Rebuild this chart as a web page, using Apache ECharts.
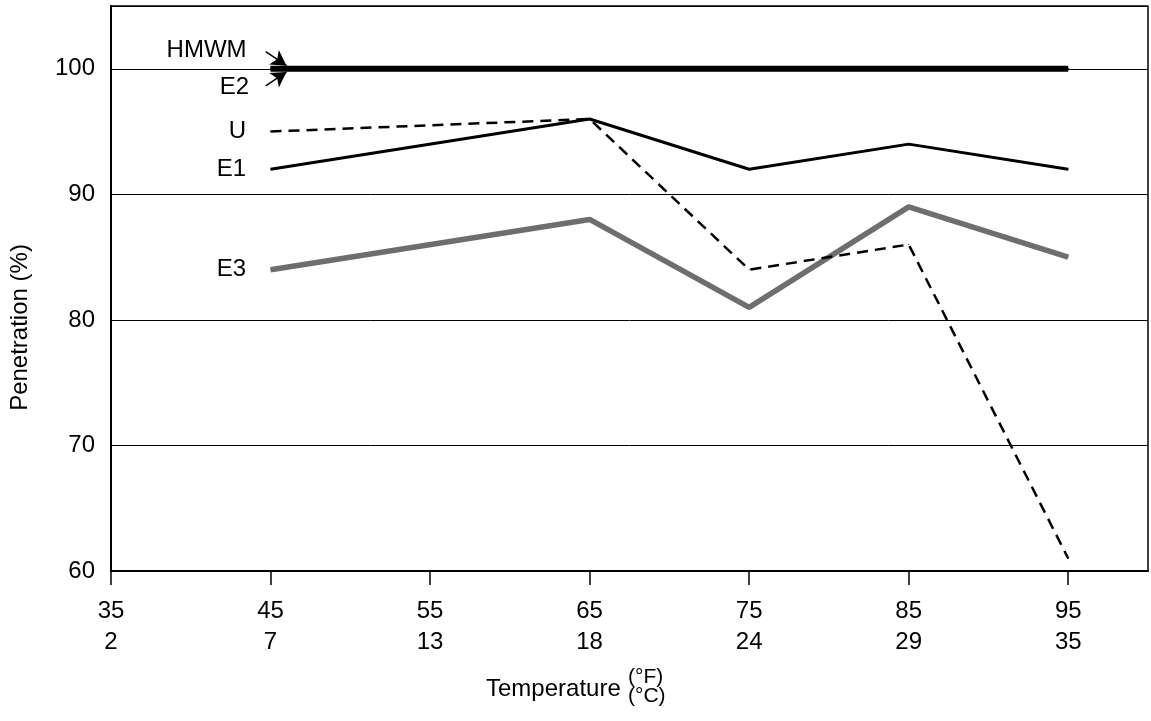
<!DOCTYPE html>
<html>
<head>
<meta charset="utf-8">
<title>Penetration vs Temperature</title>
<script src="https://cdn.jsdelivr.net/npm/echarts@6/dist/echarts.min.js"></script>
<style>
  html, body { margin: 0; padding: 0; background: #fff; }
  #main { width: 1151px; height: 721px; }
</style>
</head>
<body>
<div id="main"></div>
<script>
// temperatures (F) and matching C labels
var tickF = [35, 45, 55, 65, 75, 85, 95];
var tickC = [2, 7, 13, 18, 24, 29, 35];
// penetration (%) read at 45, 65, 75, 85, 95 F
var ptsF = [45, 65, 75, 85, 95];
var hmwm = [100, 100, 100, 100, 100];
var e2 = [100, 100, 100, 100, 100];
var u = [95, 96, 84, 86, 61];
var e1 = [92, 96, 92, 94, 92];
var e3 = [84, 88, 81, 89, 85];

var FONT = '"Liberation Sans", Arial, Helvetica, sans-serif';

function pairs(ys) {
    var out = [];
    for (var i = 0; i < ys.length; i++) {
        out.push([ptsF[i], ys[i]]);
    }
    return out;
}

// label only on the first point, left of the line
function startLabel(name, opts) {
    var l = {
        show: true,
        color: '#000',
        fontSize: 24,
        fontFamily: FONT,
        formatter: function (p) { return p.dataIndex === 0 ? name : ''; }
    };
    for (var k in opts) l[k] = opts[k];
    return l;
}

var myChart = echarts.init(document.getElementById('main'), null, { renderer: 'canvas' });

var option = {
    backgroundColor: '#fff',
    animation: false,
    title: [
        {
            text: 'Temperature',
            left: 486, top: 677,
            padding: 0,
            textStyle: { fontSize: 24, fontWeight: 'normal', color: '#000', fontFamily: FONT }
        },
        {
            text: '(°F)\n(°C)',
            left: 628, top: 668,
            padding: 0,
            textStyle: { fontSize: 21, fontWeight: 'normal', color: '#000', fontFamily: FONT, lineHeight: 19 }
        }
    ],
    grid: {
        left: 111, right: 3, top: 6, bottom: 150,
        show: true,
        borderColor: '#000',
        borderWidth: 1.5,
        outerBoundsMode: 'none'
    },
    xAxis: {
        type: 'value',
        min: 35,
        max: 100,
        axisLine: { show: true, onZero: false, lineStyle: { color: '#000', width: 2 } },
        axisTick: { show: true, inside: false, length: 14, customValues: tickF, lineStyle: { color: '#000', width: 1.5 } },
        splitLine: { show: false },
        axisLabel: {
            customValues: tickF,
            margin: 25,
            color: '#000',
            fontSize: 24,
            lineHeight: 31,
            fontFamily: FONT,
            formatter: function (v) {
                var i = tickF.indexOf(v);
                return v + '\n' + (i >= 0 ? tickC[i] : '');
            }
        }
    },
    yAxis: {
        type: 'value',
        min: 60,
        max: 105,
        interval: 10,
        name: 'Penetration (%)',
        nameLocation: 'middle',
        nameGap: 79,
        nameRotate: 90,
        nameTextStyle: { color: '#000', fontSize: 24, fontFamily: FONT, padding: [0, 78, 0, 0] },
        axisLine: { show: true, lineStyle: { color: '#000', width: 2 } },
        axisTick: { show: false },
        splitLine: { show: true, lineStyle: { color: '#000', width: 1 } },
        axisLabel: { showMaxLabel: false, margin: 16, color: '#000', fontSize: 24, fontFamily: FONT }
    },
    series: [
        {
            name: 'E3',
            type: 'line',
            data: pairs(e3),
            symbol: 'circle', symbolSize: 1,
            itemStyle: { color: '#6e6e6e' },
            lineStyle: { color: '#6e6e6e', width: 5.5 },
            label: startLabel('E3', { position: 'left', distance: 24 }),
            z: 2
        },
        {
            name: 'E1',
            type: 'line',
            data: pairs(e1),
            symbol: 'circle', symbolSize: 1,
            itemStyle: { color: '#000' },
            lineStyle: { color: '#000', width: 3 },
            label: startLabel('E1', { position: 'left', distance: 24 }),
            z: 3
        },
        {
            name: 'U',
            type: 'line',
            data: pairs(u),
            symbol: 'circle', symbolSize: 1,
            itemStyle: { color: '#000' },
            lineStyle: { color: '#000', width: 2.5, type: [11, 7] },
            label: startLabel('U', { position: 'left', distance: 24 }),
            z: 4
        },
        {
            name: 'E2',
            type: 'line',
            data: pairs(e2),
            symbol: 'circle', symbolSize: 1,
            itemStyle: { color: '#000' },
            lineStyle: { color: '#000', width: 3 },
            label: startLabel('E2', { position: 'inside', offset: [-36, 19] }),
            z: 5
        },
        {
            name: 'HMWM',
            type: 'line',
            data: pairs(hmwm),
            symbol: 'circle', symbolSize: 1,
            itemStyle: { color: '#000' },
            lineStyle: { color: '#000', width: 6 },
            label: startLabel('HMWM', { position: 'inside', offset: [-64, -18] }),
            // arrows from the labels to the line start
            markLine: {
                silent: true,
                symbol: ['none', 'arrow'],
                symbolSize: [13, 15],
                label: { show: false },
                lineStyle: { color: '#000', width: 1.5, type: 'solid' },
                data: [
                    [{ coord: [44.7, 101.36] }, { coord: [46.0, 100.25] }],
                    [{ coord: [44.7, 98.64] }, { coord: [46.0, 99.75] }]
                ]
            },
            z: 6
        }
    ]
};

myChart.setOption(option);
window.addEventListener('resize', function () {
    myChart.resize();
});
</script>
</body>
</html>
